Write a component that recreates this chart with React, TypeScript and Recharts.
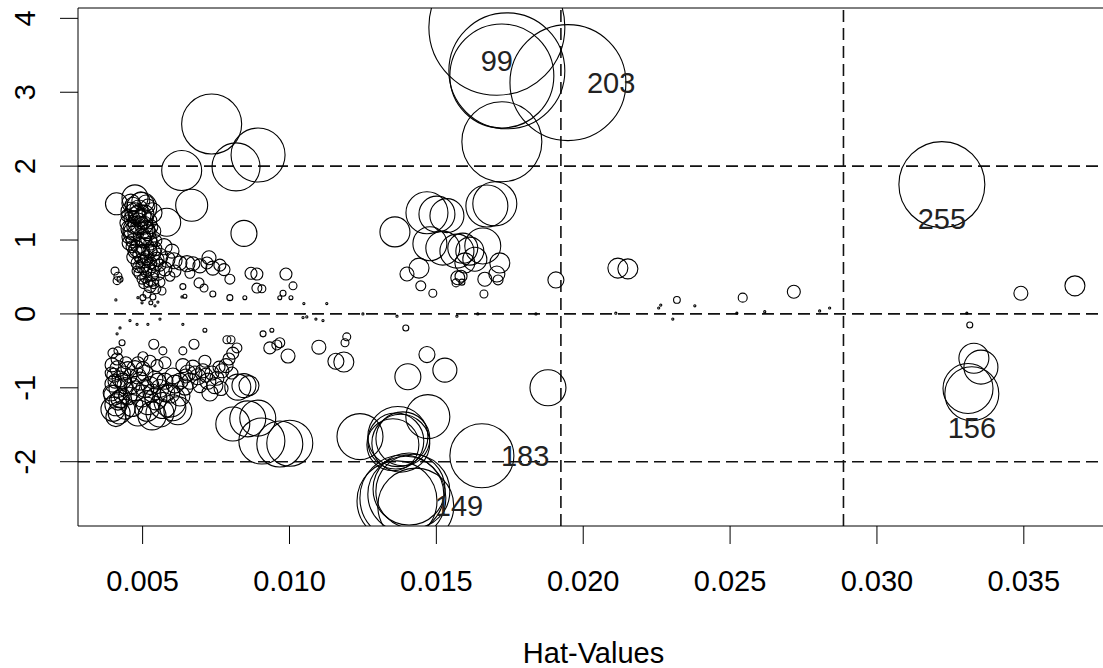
import {
  ReferenceLine,
  Scatter,
  ScatterChart,
  XAxis,
  YAxis,
  ZAxis,
} from "recharts";

// [hat value, studentized residual, Cook's D]
type Obs = [number, number, number];

const X_DOMAIN: [number, number] = [0.0028, 0.0379];
const Y_DOMAIN: [number, number] = [-2.87, 4.14];
const X_TICKS = [0.005, 0.01, 0.015, 0.02, 0.025, 0.03, 0.035];
const Y_TICKS = [-2, -1, 0, 1, 2, 3, 4];
const RESID_CUTS = [-2, 0, 2];
const HAT_CUTS = [0.01924, 0.02886];

// low leverage, positive residuals
const leftUpper: Obs[] = [
  [0.00735, 2.57, 0.016], [0.00893, 2.15, 0.01295], [0.00818, 1.99, 0.01023],
  [0.00633, 1.94, 0.0071], [0.00667, 1.47, 0.00455], [0.00845, 1.09, 0.003],
  [0.00411, 1.49, 0.00215], [0.00474, 1.57, 0.003], [0.00497, 1.44, 0.004],
  [0.00582, 1.24, 0.00348], [0.00484, 1.12, 0.004],
  [0.00457, 1.39, 0.00144], [0.00474, 1.37, 0.00178], [0.00491, 1.33, 0.00215],
  [0.00508, 1.35, 0.00144], [0.00464, 1.29, 0.00114], [0.00484, 1.23, 0.00178],
  [0.00504, 1.2, 0.00144], [0.00521, 1.26, 0.00114], [0.00457, 1.15, 0.00144],
  [0.00477, 1.1, 0.00114], [0.00498, 1.04, 0.00144], [0.00518, 1.1, 0.00114],
  [0.00467, 0.99, 0.00087], [0.00487, 0.93, 0.00114], [0.00508, 0.91, 0.00144],
  [0.00528, 0.96, 0.00087], [0.00474, 0.85, 0.00087], [0.00494, 0.8, 0.00114],
  [0.00515, 0.76, 0.00087], [0.00535, 0.83, 0.00114], [0.00481, 0.69, 0.00064],
  [0.00501, 0.65, 0.00087], [0.00521, 0.61, 0.00087], [0.00542, 0.69, 0.00114],
  [0.00491, 0.55, 0.00064], [0.00511, 0.5, 0.00064], [0.00532, 0.47, 0.00087],
  [0.00552, 0.55, 0.00087], [0.00504, 0.41, 0.00044], [0.00525, 0.37, 0.00064],
  [0.00545, 0.34, 0.00044], [0.00515, 0.27, 0.00028], [0.00535, 0.23, 0.00016],
  [0.00528, 0.15, 0.00007], [0.00501, 0.22, 0.00016], [0.00559, 0.43, 0.00044],
  [0.00566, 0.31, 0.00028], [0.0047, 1.18, 0.00087], [0.0045, 1.04, 0.00064],
  [0.00491, 0.74, 0.00044], [0.00538, 1.12, 0.00087], [0.00545, 0.99, 0.00064],
  [0.00518, 1.46, 0.00087], [0.00447, 1.33, 0.00064], [0.00532, 1.37, 0.00178],
  [0.00467, 1.47, 0.00114], [0.00511, 1.5, 0.00114], [0.00487, 1.42, 0.00144],
  [0.00464, 0.91, 0.00064], [0.00525, 0.85, 0.00087], [0.00504, 1.0, 0.00114],
  [0.00481, 0.58, 0.00044], [0.00538, 0.58, 0.00064],
  [0.0045, 1.23, 0.00114], [0.00467, 1.12, 0.00144], [0.00487, 1.18, 0.00114],
  [0.00511, 1.14, 0.00144], [0.00528, 1.18, 0.00087], [0.00454, 0.96, 0.00087],
  [0.00481, 0.88, 0.00114], [0.00501, 0.85, 0.00087], [0.00521, 1.01, 0.00114],
  [0.00542, 0.88, 0.00087], [0.0047, 0.77, 0.00087], [0.00508, 0.72, 0.00087],
  [0.00528, 0.69, 0.00064], [0.00549, 0.74, 0.00087], [0.00487, 0.64, 0.00064],
  [0.00511, 0.58, 0.00064], [0.00532, 0.53, 0.00064], [0.00498, 0.47, 0.00044],
  [0.00518, 0.43, 0.00044], [0.00538, 0.41, 0.00044], [0.00481, 1.34, 0.00144],
  [0.00501, 1.28, 0.00178], [0.0046, 1.5, 0.00144], [0.00494, 1.53, 0.00144],
  [0.00559, 0.78, 0.00114], [0.00583, 0.74, 0.00114], [0.00607, 0.72, 0.00114],
  [0.00627, 0.69, 0.00087], [0.00651, 0.68, 0.00114], [0.00671, 0.68, 0.00087],
  [0.00695, 0.65, 0.00087], [0.00719, 0.69, 0.00064], [0.00739, 0.62, 0.00087],
  [0.00726, 0.76, 0.00087], [0.00763, 0.66, 0.00064], [0.00777, 0.6, 0.00064],
  [0.00797, 0.47, 0.00044], [0.00692, 0.42, 0.00044], [0.00709, 0.35, 0.00028],
  [0.00739, 0.27, 0.00016], [0.00637, 0.37, 0.00016], [0.00644, 0.24, 0.00007],
  [0.00576, 0.61, 0.00087], [0.00593, 0.51, 0.00044], [0.0061, 0.58, 0.00064],
  [0.00661, 0.55, 0.00044], [0.00559, 0.66, 0.00064], [0.006, 0.85, 0.00087],
  [0.00573, 0.91, 0.00114],
  [0.00406, 0.58, 0.00028], [0.00416, 0.51, 0.00028], [0.00413, 0.45, 0.00028],
  [0.00423, 0.47, 0.00016],
  [0.00869, 0.55, 0.00064], [0.00889, 0.54, 0.00064], [0.00988, 0.54, 0.00064],
  [0.01012, 0.38, 0.00028], [0.00889, 0.35, 0.00044], [0.00906, 0.34, 0.00028],
  [0.00978, 0.28, 0.00016], [0.00967, 0.22, 0.00007], [0.01005, 0.22, 0.00007],
  [0.00848, 0.22, 0.00007], [0.00797, 0.22, 0.00016],
];

// residuals close to zero, drawn as dots
const nearZero: Obs[] = [
  [0.00409, 0.19, 0.00002], [0.00484, 0.22, 0.00002], [0.00498, 0.15, 0.00002],
  [0.00542, 0.11, 0.00002], [0.00552, 0.16, 0.00002], [0.00634, 0.23, 0.00002],
  [0.01049, 0.14, 0.00002], [0.01127, 0.14, 0.00002], [0.01046, -0.05, 0.00002],
  [0.01059, -0.04, 0.00002], [0.0109, -0.07, 0.00002], [0.01114, -0.09, 0.00002],
  [0.0125, 0.0, 0.00002], [0.01366, -0.03, 0.00002], [0.0157, -0.03, 0.00002],
  [0.01641, 0.0, 0.00002], [0.01839, 0.0, 0.00002], [0.02111, 0.01, 0.00002],
  [0.02257, 0.08, 0.00002], [0.02264, 0.12, 0.00002], [0.02305, -0.07, 0.00002],
  [0.0238, 0.11, 0.00002], [0.02523, 0.01, 0.00002], [0.02618, 0.03, 0.00002],
  [0.02805, 0.04, 0.00002], [0.02839, 0.08, 0.00002], [0.03306, 0.01, 0.00002],
  [0.00423, -0.19, 0.00002], [0.00413, -0.27, 0.00002], [0.00481, -0.14, 0.00002],
  [0.00518, -0.14, 0.00002], [0.00637, -0.14, 0.00002], [0.00559, -0.07, 0.00002],
  [0.00457, -0.09, 0.00002],
];

// low leverage, negative residuals
const leftLower: Obs[] = [
  [0.0043, -0.39, 0.00016], [0.00416, -0.5, 0.00028], [0.00538, -0.41, 0.00044],
  [0.00569, -0.5, 0.00028], [0.00675, -0.41, 0.00044], [0.00637, -0.5, 0.00028],
  [0.00787, -0.35, 0.00028], [0.00801, -0.35, 0.00028], [0.00821, -0.46, 0.00044],
  [0.00712, -0.22, 0.00007], [0.0091, -0.27, 0.00016], [0.0094, -0.22, 0.00007],
  [0.00933, -0.46, 0.00064], [0.00957, -0.42, 0.00044], [0.00967, -0.39, 0.00044],
  [0.00995, -0.57, 0.00087], [0.011, -0.45, 0.00087], [0.01195, -0.31, 0.00028],
  [0.01189, -0.39, 0.00028], [0.01158, -0.64, 0.00114], [0.01185, -0.65, 0.00178],
  [0.00399, -0.53, 0.00044], [0.00413, -0.61, 0.00064], [0.00396, -0.69, 0.00087],
  [0.00416, -0.74, 0.00114], [0.00402, -0.83, 0.00087], [0.00423, -0.88, 0.00114],
  [0.00399, -0.95, 0.00114], [0.00416, -1.01, 0.00144], [0.00402, -1.1, 0.00178],
  [0.00423, -1.15, 0.00144], [0.00409, -1.23, 0.00215], [0.00399, -1.29, 0.00256],
  [0.0042, -1.34, 0.00215], [0.00409, -1.39, 0.00178], [0.00436, -0.8, 0.00087],
  [0.0044, -0.97, 0.00114], [0.0043, -1.11, 0.00114], [0.00443, -0.66, 0.00064],
  [0.00457, -0.84, 0.00087], [0.00474, -0.74, 0.00114], [0.00491, -0.91, 0.00144],
  [0.00508, -0.8, 0.00114], [0.00525, -0.97, 0.00144], [0.00542, -0.88, 0.00114],
  [0.00559, -1.01, 0.00144], [0.00576, -0.91, 0.00114], [0.00593, -1.07, 0.00178],
  [0.0061, -0.95, 0.00144], [0.00627, -1.11, 0.00178], [0.00644, -0.99, 0.00114],
  [0.00474, -1.04, 0.00178], [0.00498, -1.11, 0.00215], [0.00518, -1.2, 0.00256],
  [0.00515, -1.29, 0.00256], [0.00545, -1.15, 0.00215], [0.00569, -1.24, 0.003],
  [0.00593, -1.18, 0.00455], [0.00603, -1.27, 0.003], [0.0062, -1.31, 0.00348],
  [0.00464, -1.24, 0.00215], [0.0045, -1.11, 0.00144], [0.00484, -1.34, 0.003],
  [0.00559, -1.34, 0.00348], [0.00532, -1.38, 0.00348], [0.0044, -1.29, 0.00178],
  [0.00549, -0.7, 0.00064], [0.00576, -0.66, 0.00064], [0.00525, -0.64, 0.00064],
  [0.00501, -0.58, 0.00044], [0.00484, -0.66, 0.00064],
  [0.00393, -0.8, 0.00064], [0.00406, -0.91, 0.00087], [0.00393, -1.07, 0.00114],
  [0.00416, -1.18, 0.00144], [0.00433, -0.91, 0.00114], [0.00464, -0.97, 0.00114],
  [0.00484, -0.84, 0.00114], [0.00508, -1.01, 0.00144], [0.00532, -1.07, 0.00144],
  [0.00552, -0.91, 0.00114], [0.00579, -1.07, 0.00144], [0.00603, -0.84, 0.00114],
  [0.00627, -0.91, 0.00114], [0.00647, -0.84, 0.00087], [0.00678, -0.8, 0.00087],
  [0.00715, -0.83, 0.00087], [0.0076, -0.72, 0.00064], [0.0045, -0.74, 0.00087],
  [0.00501, -0.74, 0.00087],
  [0.00654, -0.8, 0.00114], [0.00671, -0.72, 0.00087], [0.00688, -0.85, 0.00114],
  [0.00705, -0.77, 0.00087], [0.00722, -0.91, 0.00114], [0.00736, -0.8, 0.00087],
  [0.00753, -0.87, 0.00087], [0.0077, -0.77, 0.00087], [0.00784, -0.7, 0.00087],
  [0.00794, -0.61, 0.00064], [0.00807, -0.53, 0.00064], [0.00695, -0.97, 0.00087],
  [0.00661, -0.91, 0.00114], [0.00746, -0.97, 0.00114], [0.00712, -0.64, 0.00064],
  [0.00637, -0.7, 0.00087], [0.00729, -1.07, 0.00114], [0.00767, -1.01, 0.00087],
  [0.00804, -0.8, 0.00064],
  [0.00807, -1.49, 0.00513], [0.00858, -1.42, 0.00575], [0.00892, -1.41, 0.00575],
  [0.00906, -1.72, 0.0094], [0.00967, -1.76, 0.0094], [0.01001, -1.75, 0.0094],
  [0.00824, -0.99, 0.003], [0.00845, -0.97, 0.00256], [0.00862, -0.97, 0.00178],
];

// middle leverage group
const middle: Obs[] = [
  [0.01359, 1.11, 0.004], [0.01468, 1.37, 0.00783], [0.01502, 1.35, 0.00575],
  [0.01536, 1.33, 0.00513], [0.01672, 1.46, 0.00783], [0.01699, 1.49, 0.0086],
  [0.01478, 0.95, 0.00513], [0.01522, 0.89, 0.00513], [0.0157, 0.85, 0.00513],
  [0.0159, 0.89, 0.004], [0.01658, 0.92, 0.00575], [0.01614, 0.85, 0.00348],
  [0.01631, 0.74, 0.00256], [0.01597, 0.69, 0.00178], [0.01716, 0.69, 0.00178],
  [0.01706, 0.54, 0.00114], [0.01665, 0.47, 0.00087], [0.0171, 0.46, 0.00044],
  [0.01573, 0.49, 0.00087], [0.01584, 0.51, 0.00064], [0.01567, 0.42, 0.00028],
  [0.01587, 0.43, 0.00016], [0.014, 0.54, 0.00087], [0.01441, 0.62, 0.00178],
  [0.01447, 0.38, 0.00044], [0.01488, 0.28, 0.00028], [0.01662, 0.27, 0.00028],
  [0.01396, -0.19, 0.00016], [0.01907, 0.46, 0.00114],
  [0.01723, 2.33, 0.0284], [0.0174, 3.29, 0.0597], [0.01723, 3.22, 0.048],
  [0.01403, -0.85, 0.003], [0.01529, -0.76, 0.00256], [0.01468, -0.55, 0.00114],
  [0.01471, -1.39, 0.0086], [0.0124, -1.66, 0.0094], [0.01362, -1.72, 0.0139],
  [0.01369, -1.66, 0.016], [0.01379, -1.75, 0.0149], [0.01386, -1.69, 0.0129],
  [0.01352, -1.77, 0.012], [0.01396, -2.44, 0.0256], [0.01386, -2.49, 0.0328],
  [0.0142, -2.4, 0.0243], [0.01366, -2.53, 0.0284], [0.01407, -2.37, 0.023],
  [0.0188, -1.0, 0.00575],
];

// high leverage group
const right: Obs[] = [
  [0.02118, 0.62, 0.00178], [0.02152, 0.61, 0.00178], [0.02319, 0.19, 0.0002],
  [0.02543, 0.22, 0.00036], [0.02717, 0.3, 0.00075], [0.0349, 0.28, 0.00087],
  [0.03674, 0.38, 0.00178], [0.03316, -0.15, 0.00016], [0.0333, -0.6, 0.004],
  [0.03354, -0.72, 0.00513], [0.0331, -1.01, 0.0111],
];

// noteworthy observations
const labelled: Obs[] = [
  [0.01706, 3.88, 0.0821], [0.01948, 3.13, 0.0597], [0.03221, 1.75, 0.0328],
  [0.01655, -1.92, 0.0182], [0.0143, -2.6, 0.0256], [0.03323, -1.08, 0.01295],
];
const labelIds = ["99", "203", "255", "183", "149", "156"];
const labelSide: Record<string, "below" | "right"> = {
  "99": "below",
  "203": "right",
  "255": "below",
  "183": "right",
  "149": "right",
  "156": "below",
};

const FONT = "'Liberation Sans', Arial, sans-serif";

const toRows = (list: Obs[]) =>
  list.map(([hat, rstudent, cook]) => ({ hat, rstudent, cook }));

const allPoints = [
  ...toRows(leftUpper),
  ...toRows(nearZero),
  ...toRows(leftLower),
  ...toRows(middle),
  ...toRows(right),
];
const labelledPoints = labelled.map(([hat, rstudent, cook], i) => ({
  hat,
  rstudent,
  cook,
  id: labelIds[i],
}));

const radiusOf = (props: any) =>
  Math.max(0.8, Math.sqrt(Math.max(props.size ?? 0, 0) / Math.PI));

const Bubble = (props: any) => (
  <circle
    cx={props.cx}
    cy={props.cy}
    r={radiusOf(props)}
    fill="none"
    stroke="#000"
    strokeWidth={1.1}
  />
);

const LabelledBubble = (props: any) => {
  const id = props.payload?.id as string;
  const side = labelSide[id];
  return (
    <g>
      <Bubble {...props} />
      <text
        x={side === "right" ? props.cx + 19 : props.cx}
        y={side === "right" ? props.cy + 10 : props.cy + 44}
        textAnchor={side === "right" ? "start" : "middle"}
        fontSize={29}
        fontFamily={FONT}
        fill="#222"
      >
        {id}
      </text>
    </g>
  );
};

const XTick = ({ x, y, payload }: any) => (
  <text
    x={x}
    y={y + 47}
    textAnchor="middle"
    fontSize={29}
    fontFamily={FONT}
    fill="#000"
  >
    {Number(payload.value).toFixed(3)}
  </text>
);

const YTick = ({ x, y, payload }: any) => (
  <text
    x={x - 25}
    y={y}
    transform={`rotate(-90 ${x - 25} ${y})`}
    textAnchor="middle"
    fontSize={29}
    fontFamily={FONT}
    fill="#000"
  >
    {String(payload.value)}
  </text>
);

export default function App() {
  return (
    <div style={{ width: 1103, height: 668, overflow: "hidden", background: "#fff" }}>
      <style>{"body{margin:0;overflow:hidden}"}</style>
      <ScatterChart
        width={1130}
        height={668}
        margin={{ top: 8, right: 21, bottom: 0, left: 0 }}
      >
        <XAxis
          type="number"
          dataKey="hat"
          domain={X_DOMAIN}
          ticks={X_TICKS}
          allowDataOverflow
          height={142}
          tickSize={18}
          tickMargin={0}
          tick={<XTick />}
          axisLine={{ stroke: "#000" }}
          tickLine={{ stroke: "#000" }}
          label={{
            value: "Hat-Values",
            position: "insideBottom",
            offset: 5,
            fontSize: 29,
            fontFamily: FONT,
            fill: "#000",
          }}
        />
        <YAxis
          type="number"
          dataKey="rstudent"
          domain={Y_DOMAIN}
          ticks={Y_TICKS}
          allowDataOverflow
          width={78}
          tickSize={18}
          tickMargin={0}
          tick={<YTick />}
          axisLine={{ stroke: "#000" }}
          tickLine={{ stroke: "#000" }}
        />
        <ZAxis type="number" dataKey="cook" domain={[0, 0.1]} range={[0, 17690]} />

        <ReferenceLine y={Y_DOMAIN[1]} stroke="#000" />
        <ReferenceLine x={X_DOMAIN[1]} stroke="#000" />
        {RESID_CUTS.map((v) => (
          <ReferenceLine
            key={`h${v}`}
            y={v}
            stroke="#111"
            strokeWidth={1.6}
            strokeDasharray="12 6"
          />
        ))}
        {HAT_CUTS.map((v) => (
          <ReferenceLine
            key={`v${v}`}
            x={v}
            stroke="#111"
            strokeWidth={1.6}
            strokeDasharray="12 6"
          />
        ))}

        <Scatter data={allPoints} shape={<Bubble />} isAnimationActive={false} />
        <Scatter
          data={labelledPoints}
          shape={<LabelledBubble />}
          isAnimationActive={false}
        />
      </ScatterChart>
    </div>
  );
}
